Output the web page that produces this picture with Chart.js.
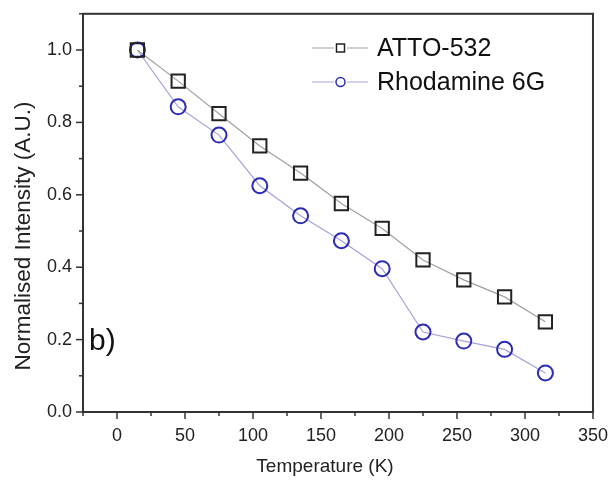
<!DOCTYPE html>
<html>
<head>
<meta charset="utf-8">
<script src="https://cdn.jsdelivr.net/npm/chart.js@4"></script>
<style>
  body { margin: 0; background: #fff; }
  #wrap { width: 613px; height: 482px; }
</style>
</head>
<body>
<div id="wrap"><canvas id="tempChart"></canvas></div>
<script>
const temperatures = [15, 45, 75, 105, 135, 165, 195, 225, 255, 285, 315];
const atto532 = [1.0, 0.914, 0.824, 0.735, 0.66, 0.576, 0.507, 0.42, 0.365, 0.318, 0.249];
const rhodamine6G = [1.0, 0.843, 0.765, 0.625, 0.542, 0.473, 0.396, 0.221, 0.196, 0.173, 0.108];
const seriesNames = ["ATTO-532", "Rhodamine 6G"];
const xTitle = "Temperature (K)";
const yTitle = "Normalised Intensity (A.U.)";

const FONT = "'Liberation Sans', Arial, sans-serif";
const AXIS = "#333";

function toPoints(ys) {
  return temperatures.map((t, i) => ({ x: t, y: ys[i] }));
}

// frame, ticks (major + minor), axis titles, legend and panel label
const frameAndTicks = {
  id: "frameAndTicks",
  afterDraw(chart) {
    const { ctx, chartArea: a, scales } = chart;
    ctx.save();
    ctx.strokeStyle = AXIS;
    ctx.lineWidth = 2;
    ctx.strokeRect(a.left, a.top, a.right - a.left, a.bottom - a.top);

    ctx.lineWidth = 1.5;
    scales.x.ticks.forEach(t => {
      const px = scales.x.getPixelForValue(t.value);
      const len = t.value % 50 === 0 ? 7 : 4;
      ctx.beginPath();
      ctx.moveTo(px, a.bottom);
      ctx.lineTo(px, a.bottom + len);
      ctx.stroke();
    });
    scales.y.ticks.forEach(t => {
      const py = scales.y.getPixelForValue(t.value);
      const major = Math.round(t.value * 10) % 2 === 0;
      const len = major ? 7 : 4;
      ctx.beginPath();
      ctx.moveTo(a.left, py);
      ctx.lineTo(a.left - len, py);
      ctx.stroke();
    });

    // axis titles
    ctx.fillStyle = "#222";
    ctx.textAlign = "center";
    ctx.textBaseline = "middle";
    ctx.font = "19px " + FONT;
    ctx.fillText(xTitle, 325, 467);
    ctx.save();
    ctx.translate(24, 236);
    ctx.rotate(-Math.PI / 2);
    ctx.font = "22.5px " + FONT;
    ctx.fillText(yTitle, 0, 0);
    ctx.restore();

    // legend
    const ds = chart.data.datasets;
    const rows = [48, 82];
    ds.forEach((d, i) => {
      const y = rows[i];
      ctx.strokeStyle = d.borderColor;
      ctx.lineWidth = 1;
      ctx.beginPath();
      ctx.moveTo(312, y); ctx.lineTo(334, y);
      ctx.moveTo(347, y); ctx.lineTo(368, y);
      ctx.stroke();
      ctx.strokeStyle = d.pointBorderColor;
      ctx.lineWidth = 1.5;
      if (d.pointStyle === "rect") {
        ctx.strokeRect(336.5, y - 4, 8, 8);
      } else {
        ctx.beginPath();
        ctx.arc(340.5, y, 4.5, 0, Math.PI * 2);
        ctx.stroke();
      }
      ctx.fillStyle = "#111";
      ctx.font = "25px " + FONT;
      ctx.textBaseline = "middle";
      ctx.textAlign = "left";
      ctx.fillText(d.label, 377, y + 1);
    });

    ctx.fillStyle = "#111";
    ctx.font = "30px " + FONT;
    ctx.textBaseline = "middle";
    ctx.textAlign = "left";
    ctx.fillText("b)", 89, 342);
    ctx.restore();
  }
};

new Chart(document.getElementById("tempChart").getContext("2d"), {
  type: "line",
  data: {
    datasets: [
      {
        label: seriesNames[0],
        data: toPoints(atto532),
        borderColor: "#a0a0a0",
        borderWidth: 1.2,
        pointStyle: "rect",
        pointRadius: 9.4,
        pointBorderColor: "#222",
        pointBorderWidth: 2,
        pointBackgroundColor: "rgba(255,255,255,0)",
        fill: false,
      },
      {
        label: seriesNames[1],
        data: toPoints(rhodamine6G),
        borderColor: "#a4a4d8",
        borderWidth: 1.2,
        pointStyle: "circle",
        pointRadius: 7.5,
        pointBorderColor: "#2b2bb5",
        pointBorderWidth: 2,
        pointBackgroundColor: "rgba(255,255,255,0)",
        fill: false,
      },
    ],
  },
  options: {
    responsive: true,
    maintainAspectRatio: false,
    animation: false,
    layout: { padding: { top: 4, right: 17, left: 0, bottom: 0 } },
    plugins: { legend: { display: false }, tooltip: { enabled: false } },
    scales: {
      x: {
        type: "linear",
        min: -25,
        max: 350,
        grid: { display: false },
        border: { display: false },
        afterFit: s => { s.height = 70; },
        ticks: {
          stepSize: 25,
          autoSkip: false,
          maxRotation: 0,
          padding: 5,
          color: "#222",
          font: { family: FONT, size: 18 },
          callback: v => (v % 50 === 0 ? v : ""),
        },
      },
      y: {
        min: 0,
        max: 1.1,
        grid: { display: false },
        border: { display: false },
        afterFit: s => { s.width = 83; },
        ticks: {
          stepSize: 0.1,
          autoSkip: false,
          padding: 3,
          color: "#222",
          font: { family: FONT, size: 18 },
          callback: v => (Math.round(v * 10) % 2 === 0 && v <= 1.0001 ? v.toFixed(1) : ""),
        },
      },
    },
  },
  plugins: [frameAndTicks],
});
</script>
</body>
</html>
